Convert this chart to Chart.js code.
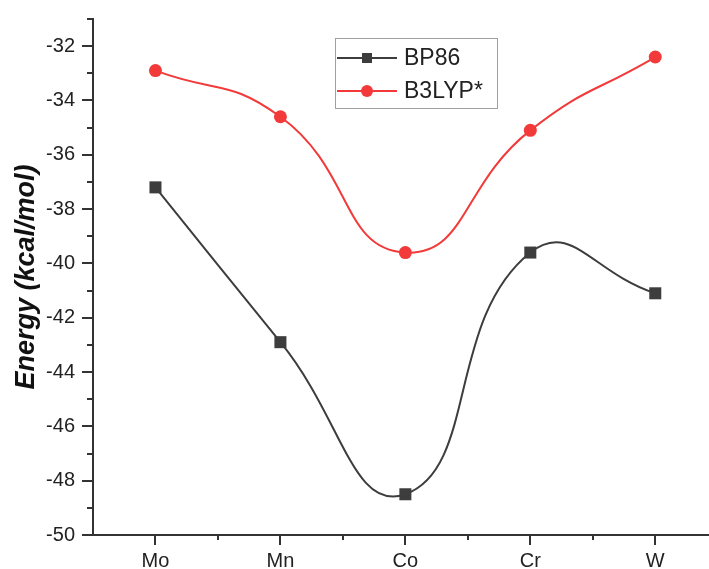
<!DOCTYPE html>
<html>
  <head>
    <meta charset="UTF-8">
    <title>Energy</title>
    <style>
      html, body { margin: 0; padding: 0; background: #fff; overflow: hidden; }
      #container { position: relative; width: 709px; height: 569px; }
    </style>
  </head>
  <body>
    <div id="container">
      <canvas id="lineChart"></canvas>
    </div>
  </body>
  <script src="https://cdn.jsdelivr.net/npm/chart.js@4/dist/chart.umd.min.js"></script>
  <script>
    const categories = ['Mo', 'Mn', 'Co', 'Cr', 'W'];
    const bp86 = [-37.2, -42.9, -48.5, -39.6, -41.1];
    const b3lyp = [-32.9, -34.6, -39.6, -35.1, -32.4];
    const seriesNames = ['BP86', 'B3LYP*'];
    const yTicks = [-50, -48, -46, -44, -42, -40, -38, -36, -34, -32];

    const FONT = '"Liberation Sans", Arial, sans-serif';
    const AXIS = '#333';
    const GREY = '#3d3d3d';
    const RED = '#f23a3a';

    function toPoints(values) {
      return values.map((v, i) => ({ x: i, y: v }));
    }

    // tick marks (major + minor) and legend box, like Origin draws them
    const originLook = {
      id: 'originLook',
      afterDraw(chart) {
        const ctx = chart.ctx;
        const xs = chart.scales.x;
        const ys = chart.scales.y;
        const area = chart.chartArea;
        ctx.save();
        ctx.strokeStyle = AXIS;
        ctx.lineWidth = 2;
        ctx.beginPath();
        for (let v = -50; v <= -31; v++) {
          const y = Math.round(ys.getPixelForValue(v));
          const len = v % 2 === 0 ? 11 : 6;
          ctx.moveTo(area.left - len, y);
          ctx.lineTo(area.left, y);
        }
        for (let v = 0; v <= 4.4; v += 0.5) {
          const x = Math.round(xs.getPixelForValue(v));
          const len = Number.isInteger(v) ? 10 : 5;
          ctx.moveTo(x, area.bottom);
          ctx.lineTo(x, area.bottom + len);
        }
        ctx.stroke();

        // legend
        ctx.lineWidth = 1;
        ctx.strokeStyle = '#a0a0a0';
        ctx.strokeRect(335.5, 38.5, 162, 70);
        const rows = [
          { name: seriesNames[0], color: GREY, y: 58, style: 'rect' },
          { name: seriesNames[1], color: RED, y: 91, style: 'circle' }
        ];
        rows.forEach(r => {
          ctx.strokeStyle = r.color;
          ctx.lineWidth = 2;
          ctx.beginPath();
          ctx.moveTo(337, r.y);
          ctx.lineTo(397, r.y);
          ctx.stroke();
          ctx.fillStyle = r.color;
          if (r.style === 'rect') {
            ctx.fillRect(362, r.y - 5, 10, 10);
          } else {
            ctx.beginPath();
            ctx.arc(367, r.y, 6, 0, Math.PI * 2);
            ctx.fill();
          }
          ctx.fillStyle = '#222';
          ctx.font = '23px ' + FONT;
          ctx.textBaseline = 'middle';
          ctx.textAlign = 'left';
          ctx.fillText(r.name, 404, r.y + 1);
        });
        ctx.restore();
      }
    };

    const ctx = document.getElementById('lineChart').getContext('2d');
    const lineChart = new Chart(ctx, {
      type: 'line',
      data: {
        datasets: [{
          label: seriesNames[0],
          data: toPoints(bp86),
          borderColor: GREY,
          backgroundColor: GREY,
          borderWidth: 2,
          pointStyle: 'rect',
          pointRadius: 8.5,
          pointBorderWidth: 0,
          tension: 0.5
        }, {
          label: seriesNames[1],
          data: toPoints(b3lyp),
          borderColor: RED,
          backgroundColor: RED,
          borderWidth: 2,
          pointStyle: 'circle',
          pointRadius: 6.5,
          pointBorderWidth: 0,
          tension: 0.5
        }]
      },
      options: {
        responsive: true,
        maintainAspectRatio: false,
        animation: false,
        layout: { autoPadding: false, padding: { top: 19, right: 0, left: 0, bottom: 0 } },
        plugins: {
          legend: { display: false },
          tooltip: { enabled: false }
        },
        scales: {
          x: {
            type: 'linear',
            min: -0.5,
            max: 4.43,
            afterFit(s) {
              s.height = 34;
              s.paddingLeft = 0;
              s.paddingRight = 0;
            },
            afterBuildTicks(s) {
              s.ticks = categories.map((c, i) => ({ value: i }));
            },
            grid: { display: false, drawTicks: false },
            border: { display: true, color: AXIS, width: 2 },
            ticks: {
              autoSkip: false,
              maxRotation: 0,
              padding: 14,
              color: '#222',
              font: { family: FONT, size: 20 },
              callback: v => categories[v]
            }
          },
          y: {
            min: -50,
            max: -31,
            afterFit(s) {
              s.width = 93;
              s.paddingTop = 0;
              s.paddingBottom = 0;
            },
            afterBuildTicks(s) {
              s.ticks = yTicks.map(v => ({ value: v }));
            },
            grid: { display: false, drawTicks: false },
            border: { display: true, color: AXIS, width: 2 },
            title: {
              display: true,
              text: 'Energy (kcal/mol)',
              color: '#111',
              font: { family: FONT, size: 27, weight: 'bold', style: 'italic' },
              padding: { top: 10, bottom: 0 }
            },
            ticks: {
              autoSkip: false,
              padding: 18,
              color: '#222',
              font: { family: FONT, size: 20 }
            }
          }
        }
      },
      plugins: [originLook]
    });
  </script>
</html>
